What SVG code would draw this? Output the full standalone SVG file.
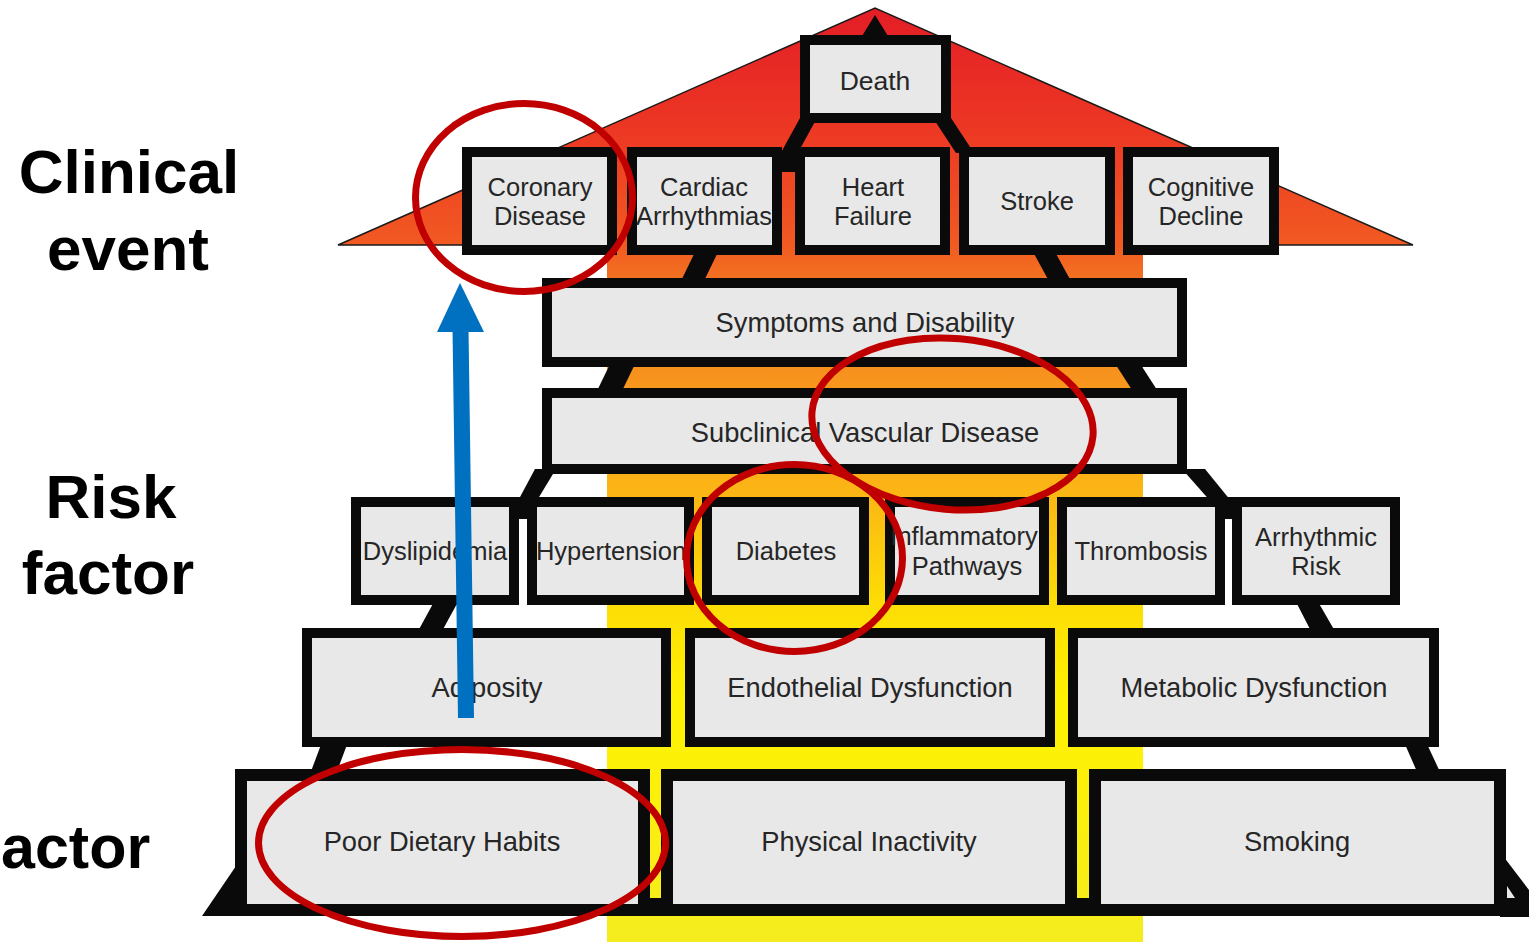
<svg xmlns="http://www.w3.org/2000/svg" width="1529" height="942" viewBox="0 0 1529 942">
<defs>
<linearGradient id="warm" gradientUnits="userSpaceOnUse" x1="0" y1="8" x2="0" y2="942">
<stop offset="0" stop-color="#e31e26"/>
<stop offset="0.12" stop-color="#ec3524"/>
<stop offset="0.254" stop-color="#f15a22"/>
<stop offset="0.28" stop-color="#f26c21"/>
<stop offset="0.398" stop-color="#f7941d"/>
<stop offset="0.516" stop-color="#fbb515"/>
<stop offset="0.634" stop-color="#fcdc06"/>
<stop offset="0.741" stop-color="#fff200"/>
<stop offset="1" stop-color="#f5ec1f"/>
</linearGradient>
<style>
.box{fill:#e8e8e8;stroke:#0a0a0a;stroke-width:10}
.big{stroke-width:12}
.t{font-family:"Liberation Sans",Arial,Helvetica,sans-serif;fill:#262626;text-anchor:middle;font-size:25.5px}
.tw{font-size:27.3px}
.lab{font-family:"Liberation Sans",Arial,Helvetica,sans-serif;font-weight:bold;font-size:62px;fill:#000;text-anchor:middle}
.strut{fill:#0a0a0a}
.ring{fill:none;stroke:#c00000;stroke-width:7}
</style>
</defs>
<rect width="1529" height="942" fill="#fff"/>
<g id="background">
<polygon points="338,245 875,8 1413,245" fill="url(#warm)" stroke="#1a1a1a" stroke-width="1.5"/>
<rect x="607" y="240" width="536" height="702" fill="url(#warm)"/>
</g>
<g id="connectors" class="strut">
<polygon points="875,15 888,36 862,36"/>
<polygon points="800,118 817,118 795,158 795,172 782,172 782,158 778,158"/>
<polygon points="933,118 951,118 974,153 956,153"/>
<polygon points="696,250 719,250 703,283 680,283"/>
<polygon points="1032,250 1054,250 1072,283 1050,283"/>
<polygon points="611,362 636,362 621,393 596,393"/>
<polygon points="1114,362 1139,362 1159,393 1134,393"/>
<polygon points="535,469 556,469 530,512 512,512"/>
<rect x="518" y="497" width="10" height="22"/>
<polygon points="1182,469 1205,469 1240,512 1220,512"/>
<rect x="1224" y="497" width="9" height="22"/>
<polygon points="435,600 459,600 441,633 417,633"/>
<polygon points="1295,600 1317,600 1336,633 1312,633"/>
<polygon points="322,742 348,742 336,774 310,774"/>
<polygon points="1404,742 1426,742 1441,774 1418,774"/>
<polygon points="236,866 246,916 202,916"/>
<polygon points="1500,852 1529,890 1529,917 1500,917"/>
<polygon points="1507,886 1507,898 1515,898" fill="#e8e8e8"/>
<rect x="240" y="898" width="1266" height="18"/>
</g>
<g id="death"><rect class="box" x="805" y="40" width="141" height="78"/><text class="t" x="875" y="90" style="font-size:26.5px">Death</text></g>
<g id="coronary"><rect class="box" x="467" y="152" width="145" height="98"/><text class="t" x="540" y="196">Coronary<tspan x="540" dy="29">Disease</tspan></text></g>
<g id="cardiac"><rect class="box" x="632" y="152" width="145" height="98"/><text class="t" x="704" y="196">Cardiac<tspan x="704" dy="29">Arrhythmias</tspan></text></g>
<g id="heart"><rect class="box" x="800" y="152" width="145" height="98"/><text class="t" x="873" y="196">Heart<tspan x="873" dy="29">Failure</tspan></text></g>
<g id="stroke"><rect class="box" x="964" y="152" width="146" height="98"/><text class="t" x="1037" y="210">Stroke</text></g>
<g id="cognitive"><rect class="box" x="1128" y="152" width="146" height="98"/><text class="t" x="1201" y="196">Cognitive<tspan x="1201" dy="29">Decline</tspan></text></g>
<g id="symptoms"><rect class="box" x="547" y="283" width="635" height="79"/><text class="t tw" x="865" y="332">Symptoms and Disability</text></g>
<g id="subclinical"><rect class="box" x="547" y="393" width="635" height="76"/><text class="t tw" x="865" y="442">Subclinical Vascular Disease</text></g>
<g id="dyslipidemia"><rect class="box" x="356" y="502" width="158" height="98"/><text class="t" x="435" y="560">Dyslipidemia</text></g>
<g id="hypertension"><rect class="box" x="532" y="502" width="157" height="98"/><text class="t" x="611" y="560">Hypertension</text></g>
<g id="diabetes"><rect class="box" x="707" y="502" width="157" height="98"/><text class="t" x="786" y="560">Diabetes</text></g>
<g id="inflammatory"><rect class="box" x="890" y="502" width="154" height="98"/><text class="t" x="964" y="545">Inflammatory<tspan x="967" dy="30">Pathways</tspan></text></g>
<g id="thrombosis"><rect class="box" x="1062" y="502" width="158" height="98"/><text class="t" x="1141" y="560">Thrombosis</text></g>
<g id="arrhythmic"><rect class="box" x="1237" y="502" width="158" height="98"/><text class="t" x="1316" y="546">Arrhythmic<tspan x="1316" dy="29">Risk</tspan></text></g>
<g id="adiposity"><rect class="box" x="307" y="633" width="359" height="109"/><text class="t tw" x="487" y="697">Adiposity</text></g>
<g id="endothelial"><rect class="box" x="690" y="633" width="360" height="109"/><text class="t tw" x="870" y="697">Endothelial Dysfunction</text></g>
<g id="metabolic"><rect class="box" x="1073" y="633" width="361" height="109"/><text class="t tw" x="1254" y="697">Metabolic Dysfunction</text></g>
<g id="poor-diet"><rect class="box big" x="241" y="775" width="403" height="135"/><text class="t tw" x="442" y="851">Poor Dietary Habits</text></g>
<g id="physical"><rect class="box big" x="667" y="775" width="404" height="135"/><text class="t tw" x="869" y="851">Physical Inactivity</text></g>
<g id="smoking"><rect class="box big" x="1095" y="775" width="405" height="135"/><text class="t tw" x="1297" y="851">Smoking</text></g>
<g id="highlights">
<ellipse class="ring" cx="524" cy="197.5" rx="108.5" ry="94"/>
<ellipse class="ring" cx="952.5" cy="424" rx="141" ry="85.5" transform="rotate(5 952.5 424)"/>
<ellipse class="ring" cx="794.5" cy="558" rx="108" ry="93.5"/>
<ellipse class="ring" cx="462" cy="843" rx="203.5" ry="93.5"/>
</g>
<g id="blue-arrow">
<line x1="466" y1="718" x2="460.5" y2="328" stroke="#0070c0" stroke-width="16"/>
<polygon points="437,332 460,283 484,332" fill="#0070c0"/>
</g>
<g id="labels">
<text class="lab" x="129" y="193">Clinical</text>
<text class="lab" x="128" y="270">event</text>
<text class="lab" x="111" y="518">Risk</text>
<text class="lab" x="108" y="594">factor</text>
<text class="lab" x="1" y="868" style="text-anchor:start;font-size:61px">actor</text>
</g>
</svg>
